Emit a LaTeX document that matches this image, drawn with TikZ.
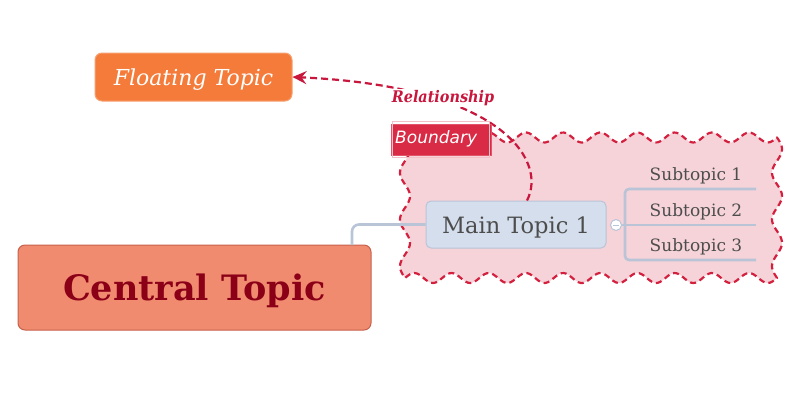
\documentclass[tikz,border=0pt]{standalone}
\usepackage{fontspec}
\setmainfont{DejaVu Serif}
\newfontfamily\relfont{DejaVu Serif Condensed}
\newfontfamily\bndfont{DejaVu Sans}
\usetikzlibrary{arrows.meta}
\definecolor{floatfill}{HTML}{F47B3A}
\definecolor{floatdraw}{HTML}{F7A070}
\definecolor{crim}{HTML}{C8163C}
\definecolor{bndfill}{HTML}{D92B45}
\definecolor{cloudfill}{HTML}{F6D3D9}
\definecolor{cloudline}{HTML}{D4203F}
\definecolor{mainfill}{HTML}{D4DEEC}
\definecolor{maindraw}{HTML}{B9C4D6}
\definecolor{txtgray}{HTML}{4D4D4D}
\definecolor{centfill}{HTML}{F08B70}
\definecolor{centdraw}{HTML}{C8604A}
\definecolor{centtxt}{HTML}{8B0017}
\tikzset{
  topicbox/.style={rounded corners=7pt, inner sep=0pt, line width=1pt},
  subtxt/.style={text=txtgray, font=\fontsize{17}{19}\selectfont, anchor=base},
  conn/.style={draw=maindraw, line width=2.6pt},
}
\begin{document}
\begin{tikzpicture}[x=1pt,y=-1pt]
\useasboundingbox (0,0) rectangle (800,400);
% cloud boundary
\path[fill=cloudfill, draw=cloudline, line width=2.2pt, dash pattern=on 6pt off 4pt, line join=round]
  plot[domain=405:777, samples=160, smooth] (\x, {137.5-5*sin(9.6774*(\x-405))})
  -- plot[domain=137.5:278, samples=70, smooth] ({777+5*sin(7.6923*(\x-137.5))}, \x)
  -- plot[domain=777:405, samples=160, smooth] (\x, {278+5*sin(9.6774*(777-\x))})
  -- plot[domain=278:137.5, samples=70, smooth] ({405-5*sin(7.6923*(278-\x))}, \x)
  -- cycle;
% central & main topics
\node[topicbox, draw=centdraw, fill=centfill, minimum width=353pt, minimum height=85pt] (central) at (194.5,287.5) {};
\node[font=\fontsize{35}{40}\selectfont\bfseries, text=centtxt, anchor=base] at (194.5,300) {Central Topic};
\node[topicbox, rounded corners=5pt, draw=maindraw, fill=mainfill, minimum width=180pt, minimum height=47pt] (main) at (516,224.5) {};
\node[font=\fontsize{22.5}{26}\selectfont, text=txtgray, anchor=base] at (516,233) {Main Topic 1};
\coordinate (cstart) at (352,245);
\draw[conn, rounded corners=7pt] (cstart) |- (main.west);
% collapse circle
\node[circle, draw=maindraw, fill=white, line width=1pt, minimum size=11pt, inner sep=0pt] (coll) at (616,225) {};
\draw[maindraw, line width=1pt] (613.3,225) -- (618.7,225);
% subtopic bracket
\coordinate (b1) at (756,189);
\coordinate (b2) at (756,225);
\coordinate (b3) at (756,260);
\draw[conn] (coll.east) -- (b2);
\draw[conn, rounded corners=4pt] (b1) -- (625,189) -- (625,260) -- (b3);
\node[subtxt] (s1) at (696,180) {Subtopic 1};
\node[subtxt] (s2) at (696,216) {Subtopic 2};
\node[subtxt] (s3) at (696,251) {Subtopic 3};
% floating topic
\node[topicbox, draw=floatdraw, fill=floatfill, minimum width=197pt, minimum height=48pt] (float) at (193.5,77) {};
\node[font=\itshape\fontsize{22}{26}\selectfont, text=white, anchor=base] at (193.5,85) {Floating Topic};
% relationship
\draw[crim, line width=2.2pt, dash pattern=on 7pt off 4pt, -{Stealth[length=14pt, width=13pt, inset=5pt]}]
  (main.north) ++(11,0) .. controls (548,160) and (500,86) .. (float.east);
\node[fill=white, inner sep=1pt, font=\relfont\bfseries\itshape\fontsize{16}{19}\selectfont, text=crim] (rel) at (443,98) {Relationship};
% boundary label
\node[fill=bndfill, draw=bndfill!80!white, line width=1pt, minimum width=100pt, minimum height=31pt, inner sep=0pt] (bnd) at (441,139.5) {};
\draw[white!70!bndfill, line width=0.6pt] ([shift={(2pt,-2pt)}]bnd.south west) rectangle ([shift={(-2pt,2pt)}]bnd.north east);
\node[font=\bndfont\itshape\fontsize{17}{20}\selectfont, text=white, anchor=base west, inner sep=0pt] at (395,143) {Boundary};
\end{tikzpicture}
\end{document}
